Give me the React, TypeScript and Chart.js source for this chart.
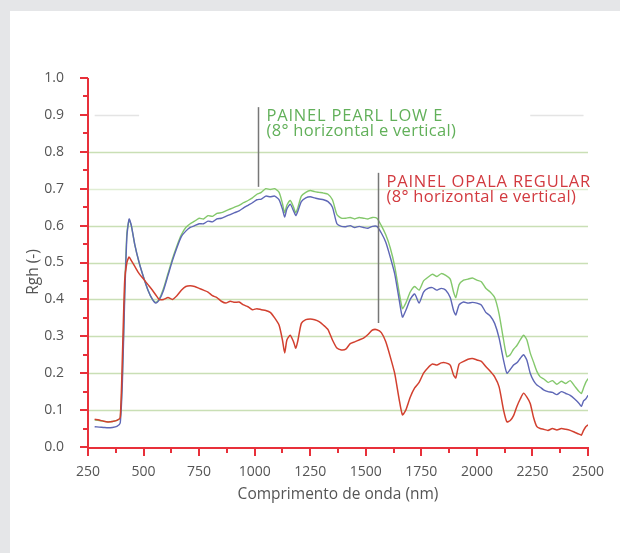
import React, { useEffect, useRef } from "react";
import { Chart, registerables } from "chart.js";

Chart.register(...registerables);

// Wavelengths (nm), shared by all series
const wavelengths = [
  280, 300, 320, 340, 360, 380, 395, 405, 415, 425,
  435, 445, 460, 480, 500, 520, 540, 555, 570, 590,
  610, 630, 650, 670, 690, 710, 730, 750, 770, 790,
  810, 830, 850, 870, 890, 910, 930, 950, 970, 990,
  1010, 1030, 1050, 1070, 1090, 1110, 1125, 1135, 1145, 1160,
  1175, 1185, 1195, 1210, 1230, 1250, 1270, 1290, 1310, 1330,
  1350, 1370, 1390, 1410, 1430, 1450, 1470, 1490, 1510, 1530,
  1550, 1570, 1590, 1610, 1630, 1650, 1665, 1680, 1700, 1720,
  1740, 1760, 1780, 1800, 1820, 1840, 1860, 1880, 1895, 1905,
  1920, 1940, 1960, 1980, 2000, 2020, 2040, 2060, 2080, 2100,
  2120, 2135, 2150, 2165, 2180, 2195, 2210, 2225, 2240, 2255,
  2270, 2285, 2300, 2320, 2340, 2360, 2380, 2400, 2420, 2440,
  2460, 2470, 2480, 2490, 2500,
];

// PAINEL PEARL LOW E (green)
const pearlGreen = [
  0.073, 0.072, 0.070, 0.068, 0.069, 0.072, 0.078, 0.20, 0.42, 0.58,
  0.615, 0.60, 0.55, 0.50, 0.46, 0.425, 0.40, 0.392, 0.40, 0.43,
  0.47, 0.51, 0.545, 0.575, 0.595, 0.605, 0.612, 0.62, 0.618, 0.627,
  0.625, 0.633, 0.635, 0.64, 0.645, 0.65, 0.655, 0.662, 0.668, 0.675,
  0.685, 0.69, 0.70, 0.698, 0.70, 0.69, 0.66, 0.635, 0.655, 0.668,
  0.65, 0.635, 0.65, 0.68, 0.69, 0.695, 0.692, 0.69, 0.688, 0.685,
  0.67, 0.63, 0.62, 0.62, 0.622, 0.618, 0.622, 0.62, 0.618, 0.622,
  0.62, 0.60, 0.575, 0.54, 0.49, 0.42, 0.375, 0.39, 0.42, 0.435,
  0.425, 0.45, 0.46, 0.468, 0.462, 0.47, 0.465, 0.455, 0.42, 0.405,
  0.44, 0.452, 0.455, 0.458, 0.452, 0.448, 0.43, 0.42, 0.405, 0.36,
  0.29, 0.245, 0.25, 0.265, 0.275, 0.29, 0.303, 0.29, 0.255, 0.23,
  0.205, 0.19, 0.185, 0.175, 0.18, 0.17, 0.178, 0.172, 0.18, 0.165,
  0.15, 0.145, 0.16, 0.175, 0.185,
];

// PAINEL PEARL LOW E (blue)
const pearlBlue = [
  0.055, 0.054, 0.053, 0.052, 0.053, 0.056, 0.065, 0.18, 0.40, 0.57,
  0.618, 0.60, 0.55, 0.50, 0.46, 0.425, 0.40, 0.39, 0.398, 0.425,
  0.465, 0.505, 0.54, 0.57, 0.585, 0.595, 0.60, 0.605, 0.605, 0.612,
  0.61, 0.618, 0.62, 0.625, 0.63, 0.635, 0.64, 0.648, 0.655, 0.662,
  0.67, 0.672, 0.68, 0.678, 0.68, 0.67, 0.645, 0.623, 0.645, 0.658,
  0.64, 0.627, 0.64, 0.665, 0.675, 0.678, 0.675, 0.672, 0.67, 0.665,
  0.65, 0.605, 0.598, 0.597, 0.60, 0.595, 0.598, 0.595, 0.593, 0.598,
  0.598, 0.58, 0.555, 0.515, 0.47, 0.40, 0.352, 0.37, 0.40, 0.415,
  0.39, 0.42, 0.43, 0.432, 0.425, 0.43, 0.425, 0.405, 0.37, 0.358,
  0.385, 0.393, 0.39, 0.392, 0.39, 0.385, 0.365, 0.355, 0.335, 0.295,
  0.235, 0.20, 0.21, 0.222, 0.228, 0.24, 0.25, 0.235, 0.20, 0.18,
  0.168, 0.162, 0.155, 0.15, 0.148, 0.142, 0.15, 0.145, 0.14, 0.13,
  0.118, 0.11, 0.125, 0.13, 0.14,
];

// PAINEL OPALA REGULAR (red)
const opalaRed = [
  0.075, 0.073, 0.070, 0.068, 0.069, 0.072, 0.08, 0.25, 0.45, 0.50,
  0.515, 0.505, 0.49, 0.47, 0.455, 0.44, 0.425, 0.412, 0.40, 0.40,
  0.405, 0.40, 0.41, 0.425, 0.435, 0.437, 0.435, 0.43, 0.425, 0.42,
  0.41, 0.405, 0.395, 0.39, 0.395, 0.392, 0.393, 0.385, 0.38, 0.372,
  0.375, 0.372, 0.37, 0.365, 0.35, 0.33, 0.29, 0.255, 0.29, 0.303,
  0.285, 0.268, 0.29, 0.335, 0.345, 0.347, 0.345, 0.34, 0.33, 0.318,
  0.29, 0.268, 0.263, 0.265, 0.28, 0.285, 0.29, 0.295, 0.305, 0.317,
  0.318, 0.31, 0.285, 0.245, 0.20, 0.13, 0.087, 0.10, 0.135, 0.16,
  0.175, 0.20, 0.215, 0.225, 0.222, 0.228, 0.228, 0.222, 0.195, 0.187,
  0.225, 0.232, 0.238, 0.24, 0.236, 0.232, 0.218, 0.205, 0.19, 0.163,
  0.10, 0.068, 0.072, 0.085, 0.11, 0.13, 0.146, 0.135, 0.118, 0.08,
  0.055, 0.05, 0.048, 0.045, 0.05, 0.046, 0.05, 0.048, 0.045, 0.04,
  0.035, 0.032, 0.045, 0.055, 0.06,
];

const xTitle = "Comprimento de onda (nm)";
const yTitle = "Rgh (-)";
const pearlLabel = ["PAINEL PEARL LOW E", "(8° horizontal e vertical)"];
const opalaLabel = ["PAINEL OPALA REGULAR", "(8° horizontal e vertical)"];
// annotation leader lines: [x nm, y top, y bottom]
const pearlLeader = [1015, 0.921, 0.705];
const opalaLeader = [1555, 0.743, 0.336];

const RED = "#e8303a";
const FONT = "'Open Sans', 'DejaVu Sans', sans-serif";

const decorPlugin = {
  id: "decor",
  beforeDatasetsDraw(chart: any) {
    const { ctx, chartArea: a, scales } = chart;
    const x = scales.x, y = scales.y;
    ctx.save();
    ctx.lineWidth = 1.5;
    for (let i = 1; i <= 8; i++) {
      const v = i / 10;
      const py = Math.round(y.getPixelForValue(v)) + 0.5;
      ctx.strokeStyle = i === 7 ? "#e0edd3" : "#c9dfb5";
      ctx.beginPath();
      ctx.moveTo(a.left, py);
      ctx.lineTo(a.right, py);
      ctx.stroke();
    }
    const p9 = Math.round(y.getPixelForValue(0.9)) + 0.5;
    ctx.strokeStyle = "#e4e4e4";
    ctx.beginPath();
    ctx.moveTo(x.getPixelForValue(280), p9);
    ctx.lineTo(x.getPixelForValue(480), p9);
    ctx.moveTo(x.getPixelForValue(2240), p9);
    ctx.lineTo(x.getPixelForValue(2480), p9);
    ctx.stroke();
    ctx.restore();
  },
  afterDatasetsDraw(chart: any) {
    const { ctx, chartArea: a, scales } = chart;
    const x = scales.x, y = scales.y;
    ctx.save();
    // axes
    ctx.strokeStyle = RED;
    ctx.lineWidth = 2;
    ctx.beginPath();
    ctx.moveTo(a.left, a.top);
    ctx.lineTo(a.left, a.bottom + 1);
    ctx.lineTo(a.right, a.bottom + 1);
    ctx.stroke();
    // y ticks
    for (let i = 0; i <= 20; i++) {
      const v = i / 20;
      const py = Math.round(y.getPixelForValue(v));
      const len = i % 2 === 0 ? 8 : 5;
      ctx.beginPath();
      ctx.moveTo(a.left - len, py);
      ctx.lineTo(a.left, py);
      ctx.stroke();
    }
    // x ticks
    for (let v = 250; v <= 2500; v += 125) {
      const px = Math.round(x.getPixelForValue(v));
      const len = (v - 250) % 250 === 0 ? 8 : 5;
      ctx.beginPath();
      ctx.moveTo(px, a.bottom);
      ctx.lineTo(px, a.bottom + 1 + len);
      ctx.stroke();
    }
    // titles
    ctx.fillStyle = "#555";
    ctx.font = `15.5px ${FONT}`;
    ctx.textAlign = "center";
    ctx.textBaseline = "middle";
    ctx.fillText(xTitle, (a.left + a.right) / 2, 495);
    ctx.save();
    ctx.translate(34, 272);
    ctx.rotate(-Math.PI / 2);
    ctx.fillText(yTitle, 0, 0);
    ctx.restore();

    // annotations
    const drawAnn = (leader: number[], lines: string[], color: string) => {
      const lx = Math.round(x.getPixelForValue(leader[0])) + 0.5;
      const top = y.getPixelForValue(leader[1]);
      const bot = y.getPixelForValue(leader[2]);
      ctx.strokeStyle = "#777";
      ctx.lineWidth = 1.5;
      ctx.beginPath();
      ctx.moveTo(lx, top);
      ctx.lineTo(lx, bot);
      ctx.stroke();
      ctx.fillStyle = color;
      ctx.font = `16.5px ${FONT}`;
      ctx.textAlign = "left";
      ctx.textBaseline = "middle";
      (ctx as any).letterSpacing = "0.8px";
      ctx.fillText(lines[0], lx + 8, top + 9);
      (ctx as any).letterSpacing = "0.3px";
      ctx.fillText(lines[1], lx + 8, top + 24);
      (ctx as any).letterSpacing = "0px";
    };
    drawAnn(pearlLeader, pearlLabel, "#62b05a");
    drawAnn(opalaLeader, opalaLabel, "#d23a3f");
    ctx.restore();
  },
};

export default function App() {
  const ref = useRef<HTMLCanvasElement>(null);
  useEffect(() => {
    const toPts = (vals: number[]) => wavelengths.map((w, i) => ({ x: w, y: vals[i] }));
    const chart = new Chart(ref.current!, {
      type: "line",
      data: {
        datasets: [
          { label: "Opala", data: toPts(opalaRed), borderColor: "#d2402f", borderWidth: 1.5, pointRadius: 0, tension: 0.2 },
          { label: "Pearl azul", data: toPts(pearlBlue), borderColor: "#5e67b6", borderWidth: 1.4, pointRadius: 0, tension: 0.2 },
          { label: "Pearl verde", data: toPts(pearlGreen), borderColor: "#84c86c", borderWidth: 1.4, pointRadius: 0, tension: 0.2 },
        ],
      },
      options: {
        animation: false,
        responsive: false,
        maintainAspectRatio: false,
        layout: { padding: { left: 0, right: 32, top: 78, bottom: 46 } },
        plugins: { legend: { display: false }, tooltip: { enabled: false } },
        scales: {
          x: {
            type: "linear",
            min: 250,
            max: 2500,
            grid: { display: false },
            border: { display: false },
            ticks: {
              stepSize: 250,
              padding: 9,
              color: "#555",
              font: { family: FONT, size: 14 },
              maxRotation: 0,
              autoSkip: false,
              callback: (v: any) => String(v),
            },
            afterFit: (s: any) => { s.height = 60; },
          },
          y: {
            type: "linear",
            min: 0,
            max: 1,
            grid: { display: false },
            border: { display: false },
            ticks: {
              stepSize: 0.1,
              padding: 16,
              color: "#555",
              font: { family: FONT, size: 14 },
              callback: (v: any) => Number(v).toFixed(1),
            },
            afterFit: (s: any) => { s.width = 88; },
          },
        },
      },
      plugins: [decorPlugin],
    });
    return () => chart.destroy();
  }, []);
  return (
    <div style={{ position: "fixed", left: 0, top: 0, width: 620, height: 553, background: "#e5e6e8" }}>
      <div style={{ position: "absolute", left: 10, top: 11, right: 0, bottom: 0, background: "#fff" }} />
      <canvas ref={ref} width={620} height={553} style={{ position: "absolute", left: 0, top: 0, width: 620, height: 553 }} />
    </div>
  );
}
